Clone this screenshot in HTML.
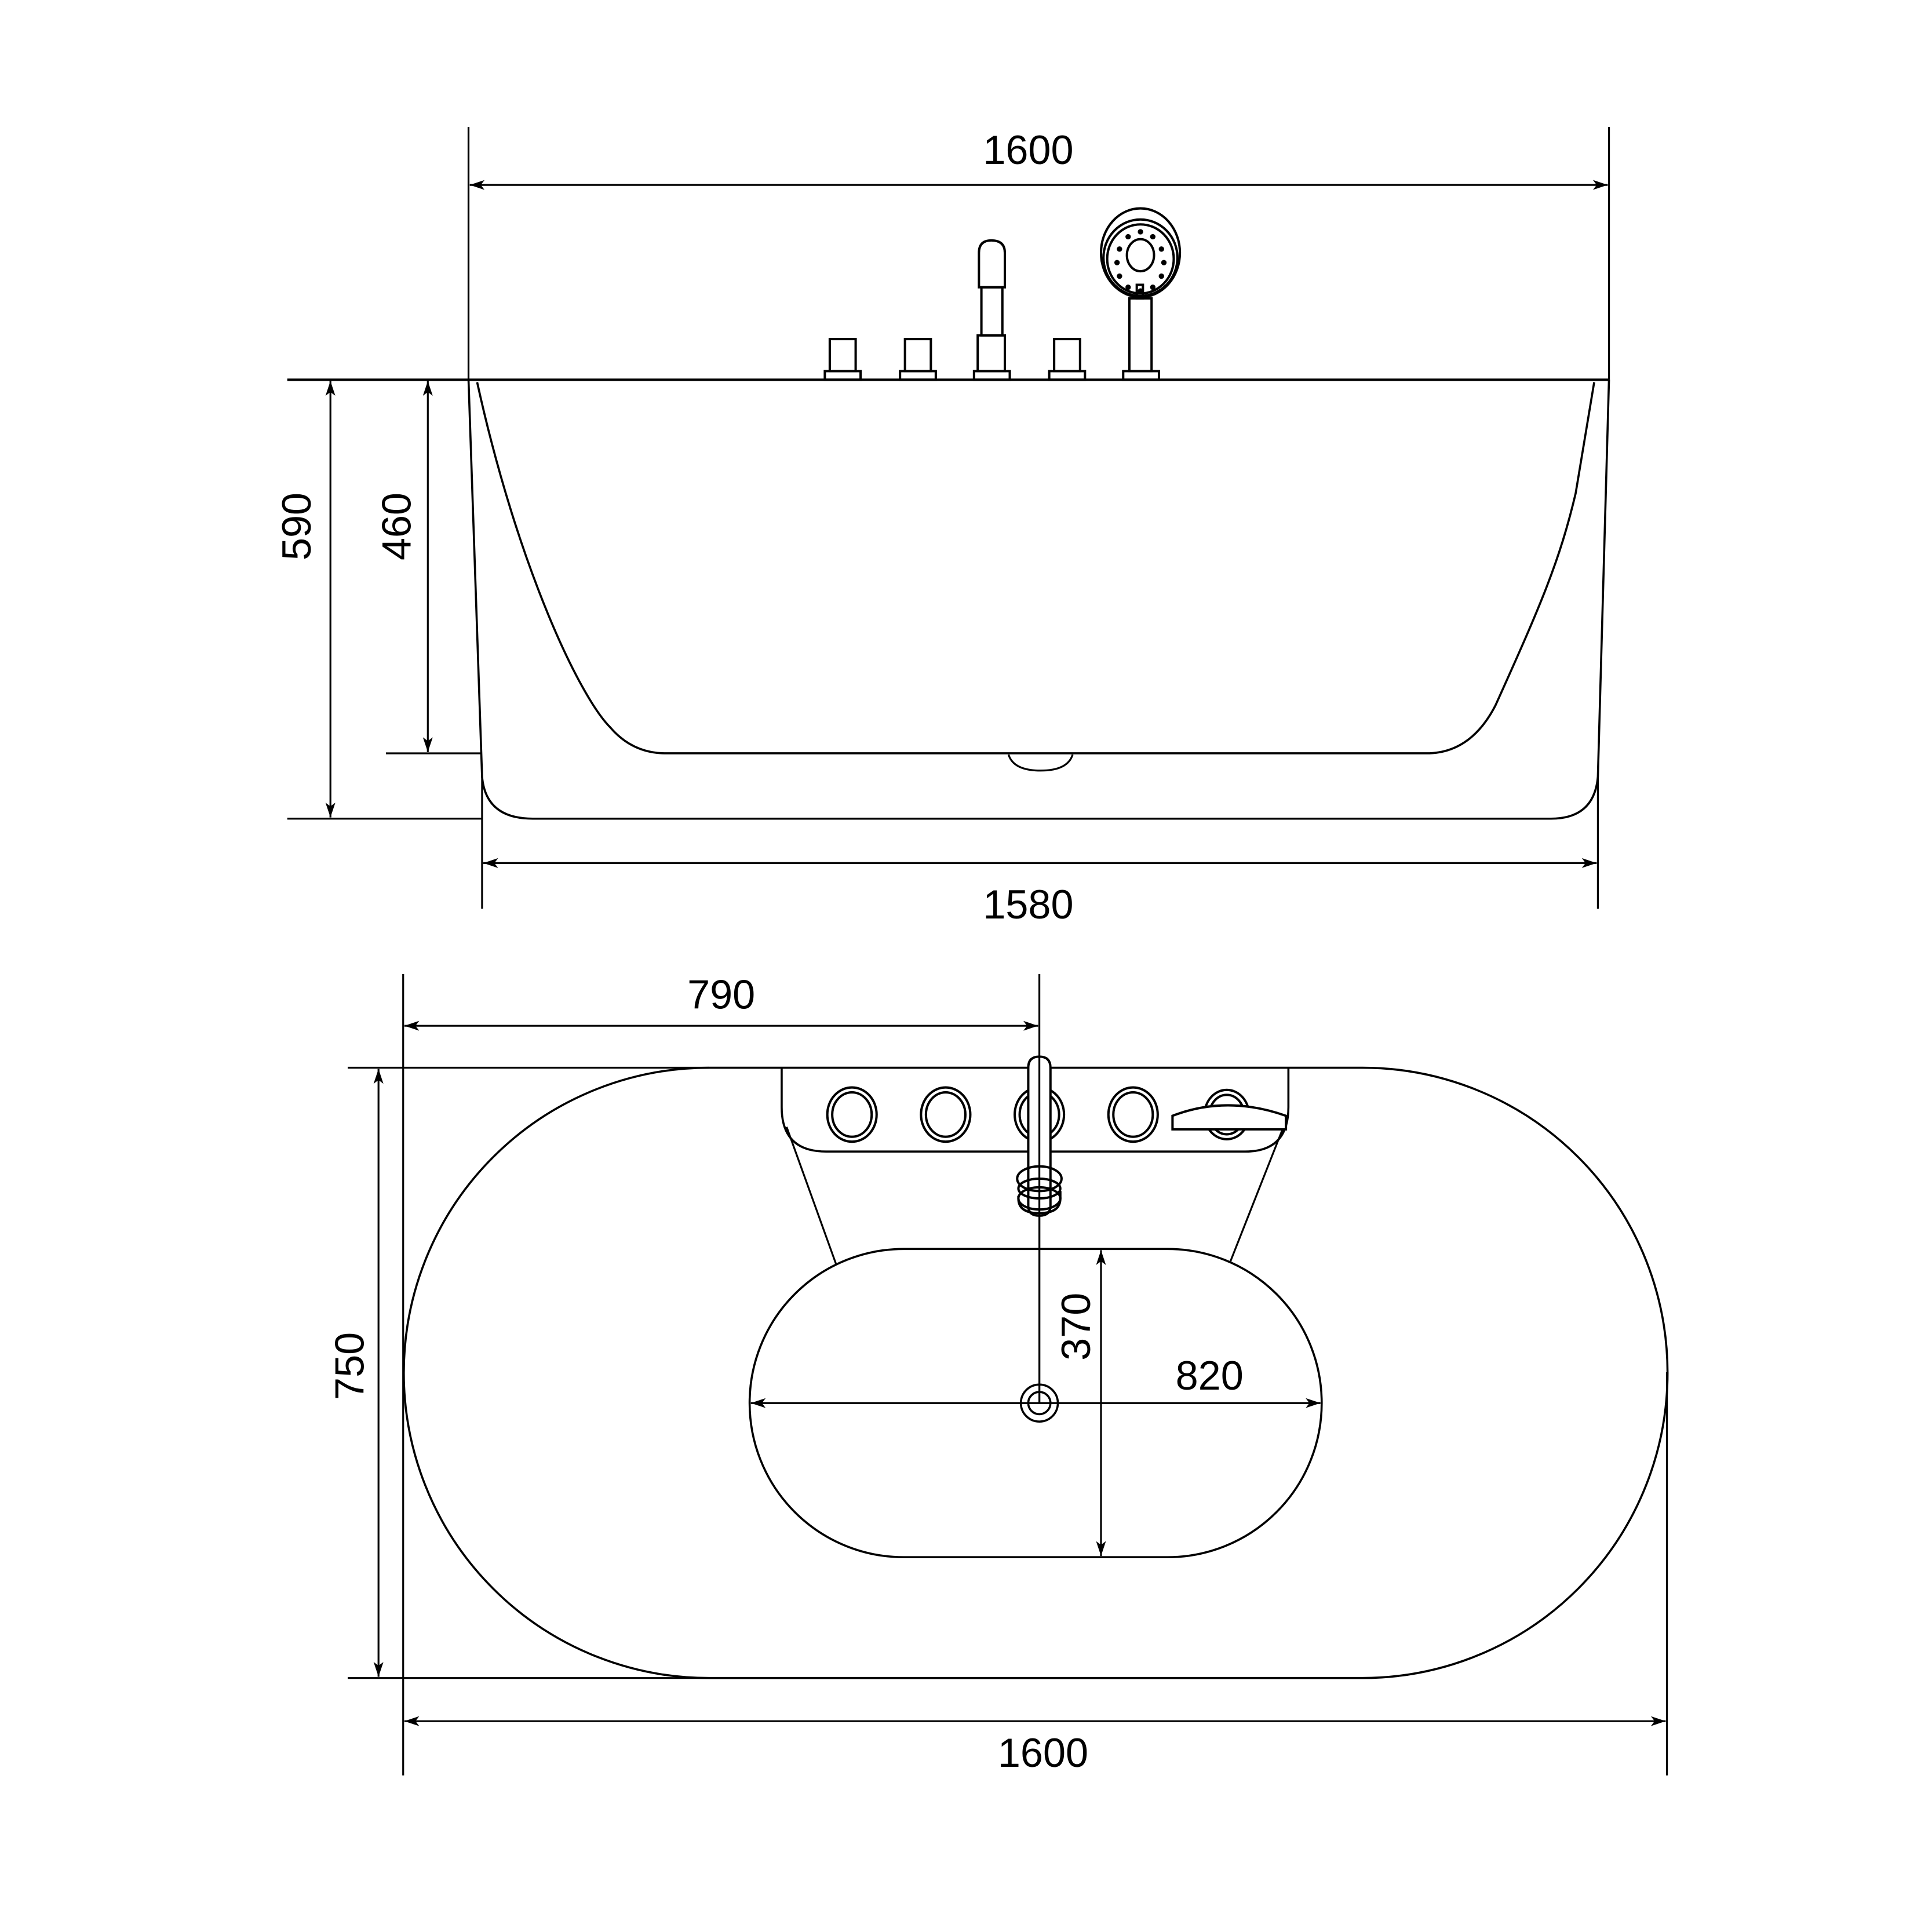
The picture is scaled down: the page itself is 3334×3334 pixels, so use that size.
<!DOCTYPE html>
<html><head><meta charset="utf-8"><style>html,body{margin:0;padding:0;background:#fff}svg{display:block}</style></head>
<body>
<svg xmlns="http://www.w3.org/2000/svg" width="3334" height="3334" viewBox="0 0 1567 1567">
<defs>
<marker id="a" viewBox="0 0 12 8" refX="12" refY="4" markerWidth="12" markerHeight="8" markerUnits="userSpaceOnUse" orient="auto-start-reverse">
<path d="M0,0 L12,4 L0,8 L3,4 Z" fill="#000"/></marker>
</defs>
<g fill="none" stroke="#000" stroke-width="1.5">
<line x1="380" y1="103" x2="380" y2="308"/>
<line x1="1305" y1="103" x2="1305" y2="308"/>
<line x1="381" y1="150" x2="1304" y2="150" marker-start="url(#a)" marker-end="url(#a)"/>
<line x1="233" y1="308" x2="1305" y2="308" stroke-width="1.9"/>
<path d="M380,308 L391,630 Q394,664 432,664 L1258,664 Q1293,664 1296,630 L1305,308" stroke-width="1.7"/>
<path d="M387,310 C420,460 470,565 495,590 Q513,611 540,611 L1157,611 Q1193,611 1213,572 C1250,490 1265,455 1278,400 L1293,310" stroke-width="1.7"/>
<path d="M818,612 Q822,625 844,625 Q866,625 870,612"/>
<line x1="313" y1="611" x2="391" y2="611"/>
<line x1="233" y1="664" x2="391" y2="664"/>
<line x1="268" y1="309" x2="268" y2="663" marker-start="url(#a)" marker-end="url(#a)"/>
<line x1="347" y1="309" x2="347" y2="610" marker-start="url(#a)" marker-end="url(#a)"/>
<line x1="391" y1="630" x2="391" y2="737"/>
<line x1="1296" y1="630" x2="1296" y2="737"/>
<line x1="392" y1="700" x2="1295" y2="700" marker-start="url(#a)" marker-end="url(#a)"/>
<g stroke-width="1.9">
<rect x="669" y="301" width="29" height="7"/><rect x="673" y="275" width="21" height="26"/>
<rect x="730" y="301" width="29" height="7"/><rect x="734" y="275" width="21" height="26"/>
<rect x="790" y="301" width="29" height="7"/><rect x="793" y="272" width="22" height="29"/>
<rect x="796" y="233" width="17" height="39"/>
<path d="M794,233 L794,205 Q794,195 804,195 Q815,195 815,205 L815,233 Z"/>
<rect x="851" y="301" width="29" height="7"/><rect x="855" y="275" width="21" height="26"/>
<rect x="911" y="301" width="29" height="7"/><rect x="916" y="242" width="18" height="59"/>
<ellipse cx="925" cy="205" rx="32" ry="36"/>
<ellipse cx="925" cy="209" rx="30" ry="31"/>
<ellipse cx="925" cy="210" rx="27" ry="28"/>
<ellipse cx="925" cy="207" rx="11" ry="13"/>
<rect x="922" y="231" width="5" height="11"/>
</g>
<g fill="#000" stroke="none">
<circle cx="925" cy="188" r="2.2"/><circle cx="915" cy="192" r="2.2"/><circle cx="935" cy="192" r="2.2"/>
<circle cx="908" cy="202" r="2.2"/><circle cx="942" cy="202" r="2.2"/>
<circle cx="906" cy="213" r="2.2"/><circle cx="944" cy="213" r="2.2"/>
<circle cx="908" cy="224" r="2.2"/><circle cx="942" cy="224" r="2.2"/>
<circle cx="915" cy="233" r="2.2"/><circle cx="935" cy="233" r="2.2"/><circle cx="925" cy="236" r="2.2"/>
</g>
<line x1="327" y1="790" x2="327" y2="1440"/>
<line x1="843" y1="790" x2="843" y2="1138"/>
<line x1="328" y1="832" x2="842" y2="832" marker-start="url(#a)" marker-end="url(#a)"/>
<line x1="282" y1="866" x2="575" y2="866"/>
<line x1="282" y1="1361" x2="575" y2="1361"/>
<path d="M575,866 L1105,866 A247.5,247.5 0 0 1 1105,1361 L575,1361 A247.5,247.5 0 0 1 575,866 Z" stroke-width="1.7"/>
<line x1="307" y1="867" x2="307" y2="1360" marker-start="url(#a)" marker-end="url(#a)"/>
<line x1="1352" y1="1113" x2="1352" y2="1440"/>
<line x1="328" y1="1396" x2="1351" y2="1396" marker-start="url(#a)" marker-end="url(#a)"/>
<path d="M634,866 L634,898 Q634,934 670,934 L1010,934 Q1045,934 1045,898 L1045,866" stroke-width="1.7"/>
<line x1="638" y1="914" x2="678" y2="1025"/>
<line x1="1041" y1="914" x2="998" y2="1023"/>
<path d="M733,1013 L947,1013 A125,125 0 0 1 947,1263 L733,1263 A125,125 0 0 1 733,1013 Z" stroke-width="1.7"/>
<line x1="609" y1="1138" x2="1071" y2="1138" marker-start="url(#a)" marker-end="url(#a)"/>
<line x1="893" y1="1014" x2="893" y2="1262" marker-start="url(#a)" marker-end="url(#a)"/>
<circle cx="843" cy="1138" r="15" stroke-width="1.7"/>
<circle cx="843" cy="1138" r="9" stroke-width="1.7"/>
<g stroke-width="1.9">
<ellipse cx="691" cy="904" rx="20" ry="22"/><ellipse cx="691" cy="904" rx="16" ry="18"/>
<ellipse cx="767" cy="904" rx="20" ry="22"/><ellipse cx="767" cy="904" rx="16" ry="18"/>
<ellipse cx="843" cy="904" rx="20" ry="22"/><ellipse cx="843" cy="904" rx="16" ry="18"/>
<ellipse cx="919" cy="904" rx="20" ry="22"/><ellipse cx="919" cy="904" rx="16" ry="18"/>
<ellipse cx="995" cy="904" rx="18" ry="20"/><ellipse cx="995" cy="904" rx="14" ry="16"/>
<path d="M951,905 Q995,888 1043,905 L1043,916 L951,916 Z" fill="#fff"/>
<path d="M834,866 Q834,857 843,857 Q852,857 852,866 L852,978 Q852,986 843,986 Q834,986 834,978 Z" fill="#fff"/>
<ellipse cx="843" cy="956" rx="18" ry="10"/>
<ellipse cx="843" cy="964" rx="17" ry="8"/>
<path d="M826,970 L826,972 Q826,984 843,984 Q860,984 860,972 L860,966"/>
<ellipse cx="843" cy="972" rx="17" ry="9"/>
</g>
<line x1="843" y1="857" x2="843" y2="1138"/>
</g>
<g font-family="'Liberation Sans', sans-serif" font-size="33" fill="#000" text-anchor="middle">
<text x="834" y="133">1600</text>
<text x="834" y="745">1580</text>
<text x="585" y="818">790</text>
<text x="846" y="1433">1600</text>
<text x="981" y="1127">820</text>
<text transform="translate(252,427) rotate(-90)">590</text>
<text transform="translate(333,427) rotate(-90)">460</text>
<text transform="translate(295,1108) rotate(-90)">750</text>
<text transform="translate(884,1076) rotate(-90)">370</text>
</g>
</svg>
</body></html>
